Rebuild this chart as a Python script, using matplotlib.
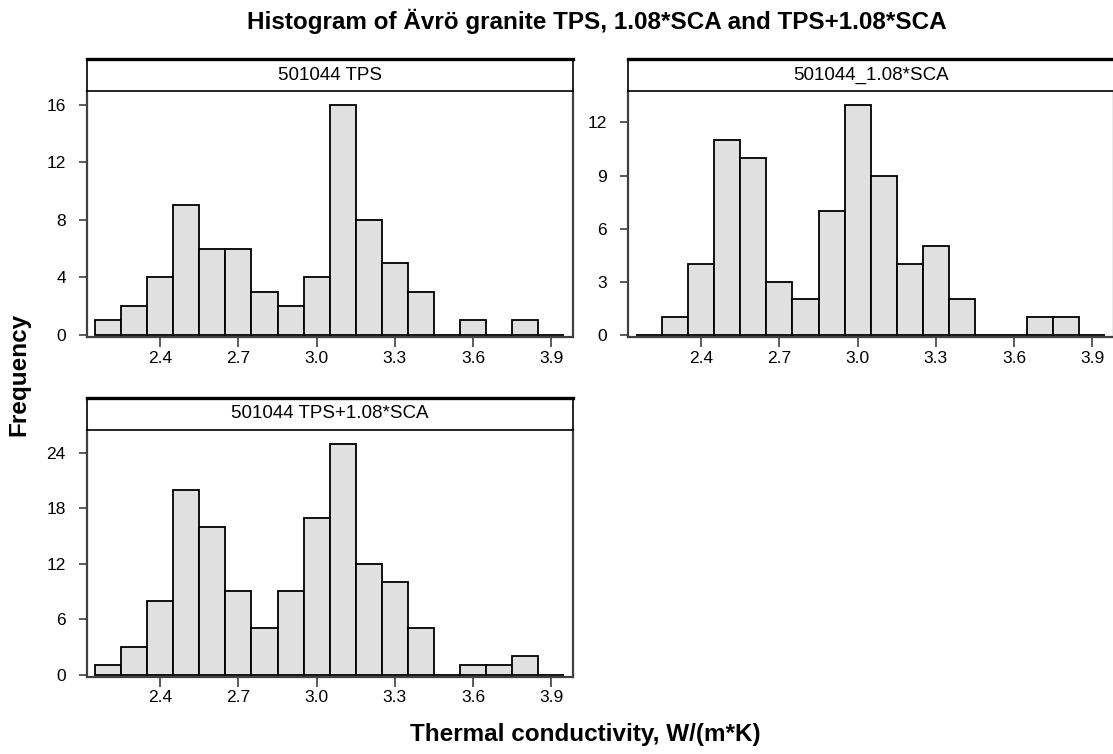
import numpy as np
import matplotlib
matplotlib.use("Agg")
import matplotlib.pyplot as plt

plt.rcParams['font.family'] = ['Liberation Sans', 'DejaVu Sans']

# bin centres (W/(m*K)), bin width 0.1
centers = [2.2, 2.3, 2.4, 2.5, 2.6, 2.7, 2.8, 2.9, 3.0, 3.1, 3.2, 3.3, 3.4, 3.5, 3.6, 3.7, 3.8, 3.9]
tps_counts = [1, 2, 4, 9, 6, 6, 3, 2, 4, 16, 8, 5, 3, 0, 1, 0, 1, 0]
sca_counts = [0, 1, 4, 11, 10, 3, 2, 7, 13, 9, 4, 5, 2, 0, 0, 1, 1, 0]
sum_counts = [1, 3, 8, 20, 16, 9, 5, 9, 17, 25, 12, 10, 5, 0, 1, 1, 2, 0]

panel_titles = ["501044 TPS", "501044_1.08*SCA", "501044 TPS+1.08*SCA"]
y_ticks = [[0, 4, 8, 12, 16], [0, 3, 6, 9, 12], [0, 6, 12, 18, 24]]
x_ticks = [2.4, 2.7, 3.0, 3.3, 3.6, 3.9]
x_ticklabels = ["2.4", "2.7", "3.0", "3.3", "3.6", "3.9"]

W, H = 1113, 754
fig = plt.figure(figsize=(W / 100, H / 100), dpi=100)

def px_rect(x0, y0, x1, y1):
    # pixel box (top-left origin) -> figure fraction rect
    return [x0 / W, 1 - y1 / H, (x1 - x0) / W, (y1 - y0) / H]

# (left, right, strip top, strip bottom, plot bottom) in pixels
layout = [
    (86.7, 572.7, 59, 91, 336.7),
    (627.7, 1113.7, 59, 91, 336.7),
    (86.7, 572.7, 398, 430, 676.5),
]
frame_col = '#404040'

for counts, title, yt, (x0, x1, s0, s1, yb) in zip(
        [tps_counts, sca_counts, sum_counts], panel_titles, y_ticks, layout):
    ax = fig.add_axes(px_rect(x0, s1, x1, yb))
    ax.bar(centers, counts, width=0.1, color='#e0e0e0', edgecolor='black',
           linewidth=1.3, zorder=2)
    top = max(counts) * 1.06
    ax.set_ylim(-0.008 * top, top)
    ax.set_xlim(2.118, 3.982)
    ax.set_xticks(x_ticks)
    ax.set_xticklabels(x_ticklabels)
    ax.set_yticks(yt)
    for sp in ax.spines.values():
        sp.set_color(frame_col)
        sp.set_linewidth(1.6)
    ax.spines['top'].set_visible(False)
    ax.tick_params(axis='both', colors=frame_col, labelcolor='black',
                   labelsize=12.5, width=1.2)
    ax.tick_params(axis='x', length=7, pad=3)
    ax.tick_params(axis='y', length=6, pad=9)

    # strip with panel name
    st = fig.add_axes(px_rect(x0, s0, x1, s1))
    st.set_xticks([])
    st.set_yticks([])
    for sp in st.spines.values():
        sp.set_color('black')
        sp.set_linewidth(1.2)
    st.spines['top'].set_linewidth(2.4)
    st.text(0.5, 0.5, title, ha='center', va='center', fontsize=13.5,
            transform=st.transAxes)

fig.text(596.5 / W, 1 - 21 / H, "Histogram of Ävrö granite TPS, 1.08*SCA and TPS+1.08*SCA",
         ha='center', va='center', fontsize=17.5, fontweight='bold')
fig.text(585 / W, 1 - 735 / H, "Thermal conductivity, W/(m*K)",
         ha='center', va='center', fontsize=17.5, fontweight='bold')
fig.text(19 / W, 1 - 374 / H, "Frequency", rotation=90,
         ha='center', va='center', fontsize=17.5, fontweight='bold')

fig.savefig("out.png", dpi=100)
